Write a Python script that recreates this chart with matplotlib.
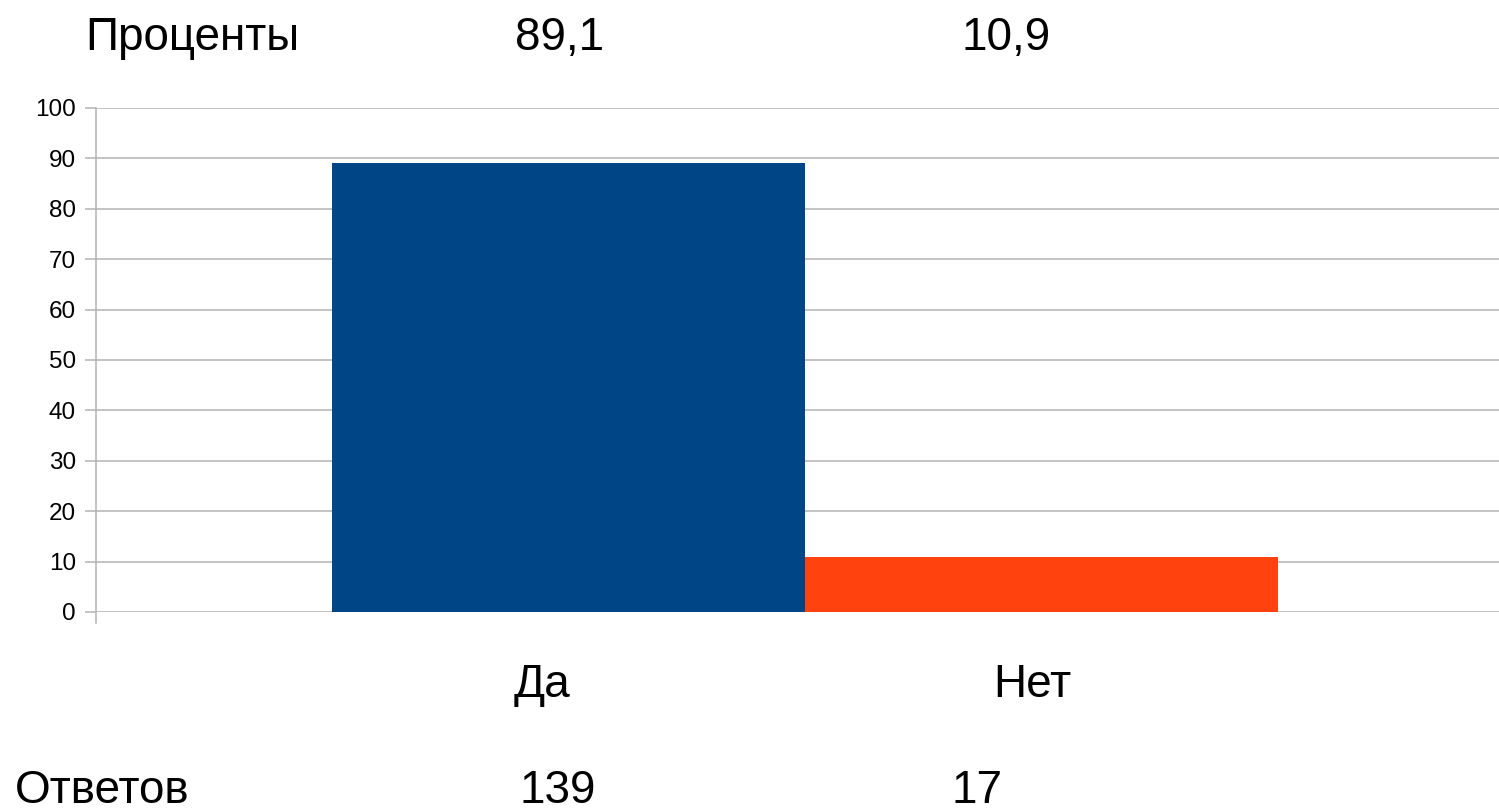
import matplotlib
matplotlib.use("Agg")
import matplotlib.pyplot as plt

# ---- data ----
categories = ["Да", "Нет"]
percents = [89.1, 10.9]
counts = [139, 17]
row_titles = ["Проценты", "Ответов"]
yticks = [0, 10, 20, 30, 40, 50, 60, 70, 80, 90, 100]
colors = ["#004586", "#ff420e"]

W, H = 1499, 808
plt.rcParams['font.family'] = ['Liberation Sans', 'DejaVu Sans']
fig = plt.figure(figsize=(W / 100, H / 100), dpi=100)

ax = fig.add_axes([96 / W, (H - 612) / H, 1 - 96 / W, (612 - 108) / H])
x = list(range(len(categories)))
ax.bar(x, percents, width=1.0, color=colors, zorder=3)
ax.set_xlim(-1.0, 1.967)
ax.set_ylim(0, 100)
ax.set_yticks(yticks)
ax.set_yticklabels([str(t) for t in yticks], fontsize=17.5)
ax.set_xticks([])
grid_c = "#b3b3b3"
ax.yaxis.grid(True, color=grid_c, linewidth=1.1, zorder=0)
ax.tick_params(axis='y', length=8, width=1.1, color=grid_c, pad=6.5, labelcolor='black')
for s in ['top', 'right', 'bottom']:
    ax.spines[s].set_visible(False)
ax.spines['left'].set_color(grid_c)
ax.spines['left'].set_linewidth(1.1)
ax.spines['left'].set_bounds(-2.2, 100)

def fx(px):
    return px / W

def fy(py):
    return (H - py) / H

big = 33
# top row
fig.text(fx(85), fy(50), row_titles[0], fontsize=big, ha='left', va='baseline')
pct_x = [560, 1006]
for px, v in zip(pct_x, percents):
    fig.text(fx(px), fy(50), f"{v:.1f}".replace('.', ','), fontsize=big, ha='center', va='baseline')

# category labels
cat_x = [542, 1032]
for px, c in zip(cat_x, categories):
    fig.text(fx(px), fy(697), c, fontsize=big, ha='center', va='baseline')

# bottom row
fig.text(fx(15), fy(803), row_titles[1], fontsize=big, ha='left', va='baseline')
cnt_x = [558, 977]
for px, v in zip(cnt_x, counts):
    fig.text(fx(px), fy(803), str(v), fontsize=big, ha='center', va='baseline')

fig.savefig("out.png", dpi=100)
